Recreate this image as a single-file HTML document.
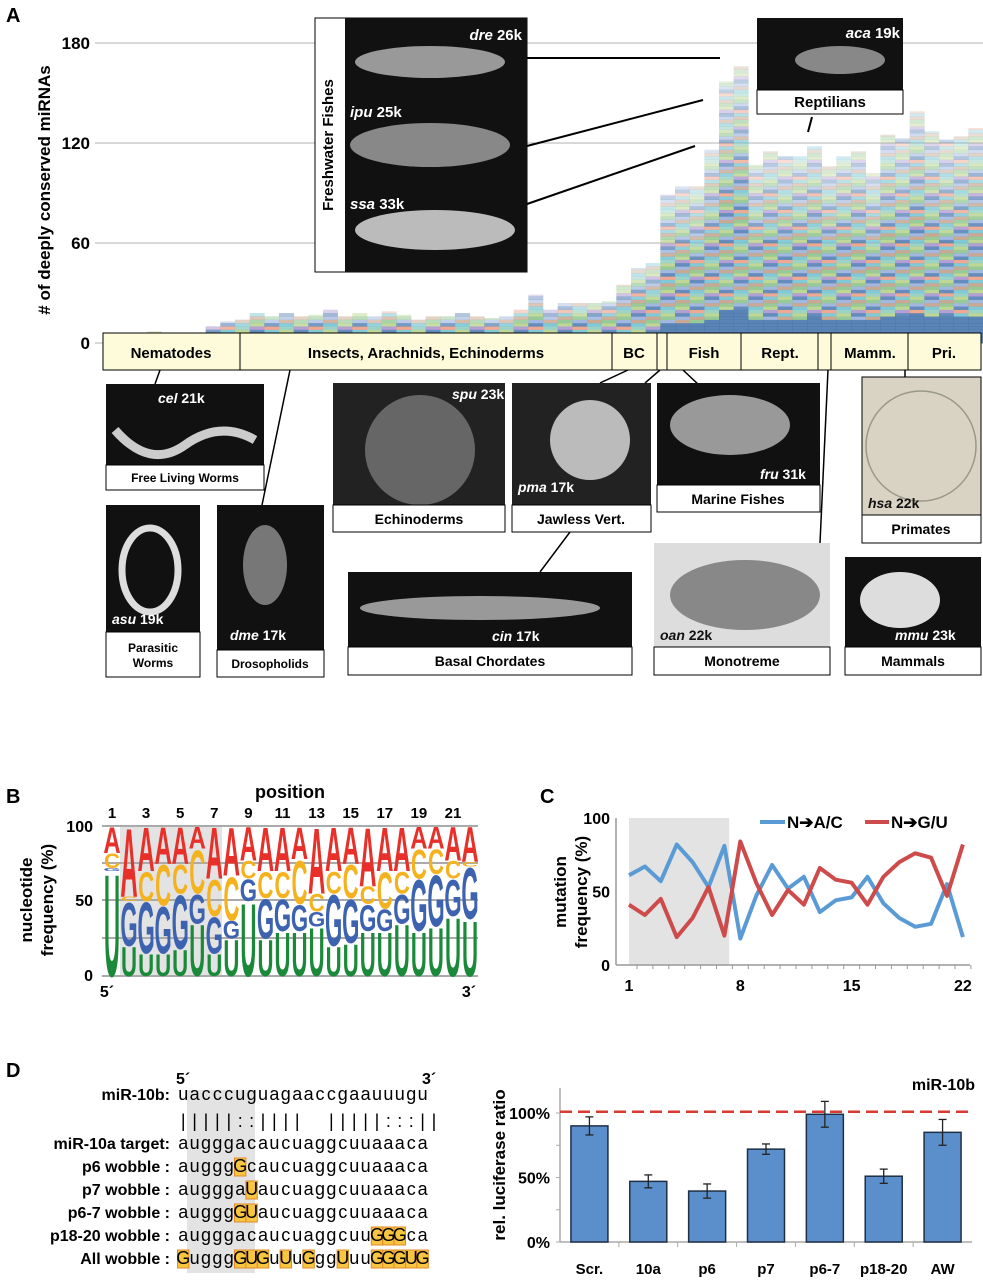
<!DOCTYPE html>
<html><head><meta charset="utf-8"><style>
body{margin:0;background:#fff;}
svg{display:block;font-family:"Liberation Sans",Arial,sans-serif;}
.b{font-weight:bold;}
</style></head><body>
<svg id="fig" width="983" height="1280" viewBox="0 0 983 1280" xmlns="http://www.w3.org/2000/svg">
<text x="6" y="22" class="b" font-size="20">A</text>
<text x="6" y="803" class="b" font-size="20">B</text>
<text x="540" y="803" class="b" font-size="20">C</text>
<text x="6" y="1077" class="b" font-size="20">D</text>

<!-- Panel A axes -->
<g stroke="#b0b0b0" stroke-width="1">
<line x1="95" y1="43" x2="983" y2="43"/><line x1="95" y1="143" x2="983" y2="143"/><line x1="95" y1="243" x2="983" y2="243"/><line x1="95" y1="343" x2="983" y2="343"/>
</g>
<g class="b" font-size="17" text-anchor="end">
<text x="90" y="49">180</text><text x="90" y="149">120</text><text x="90" y="249">60</text><text x="90" y="349">0</text>
</g>
<text class="b" font-size="17" text-anchor="middle" transform="translate(50,190) rotate(-90)"># of deeply conserved miRNAs</text>
<g id="barsA"></g>

<!-- Freshwater fishes -->
<g>
<rect x="315" y="18" width="212" height="254" fill="#fff" stroke="#000"/>
<rect x="345" y="18" width="182" height="254" fill="#111"/>
<ellipse cx="430" cy="62" rx="75" ry="16" fill="#999"/>
<ellipse cx="430" cy="145" rx="80" ry="22" fill="#888"/>
<ellipse cx="435" cy="230" rx="80" ry="20" fill="#bbb"/>
<text x="333" y="145" class="b" font-size="15" text-anchor="middle" transform="rotate(-90 333 145)">Freshwater Fishes</text>
<text x="522" y="40" class="b" font-size="15" fill="#fff" text-anchor="end"><tspan font-style="italic">dre</tspan> 26k</text>
<text x="350" y="117" class="b" font-size="15" fill="#fff"><tspan font-style="italic">ipu</tspan> 25k</text>
<text x="350" y="209" class="b" font-size="15" fill="#fff"><tspan font-style="italic">ssa</tspan> 33k</text>
</g>
<g stroke="#000" stroke-width="2">
<line x1="527" y1="58" x2="720" y2="58"/><line x1="527" y1="146" x2="703" y2="100"/><line x1="527" y1="204" x2="695" y2="146"/>
<line x1="812" y1="117" x2="808" y2="132"/>
</g>
<g>
<rect x="757" y="18" width="146" height="72" fill="#111"/>
<ellipse cx="840" cy="60" rx="45" ry="14" fill="#888"/>
<text x="900" y="38" class="b" font-size="15" fill="#fff" text-anchor="end"><tspan font-style="italic">aca</tspan> 19k</text>
<rect x="757" y="90" width="146" height="24" fill="#fff" stroke="#000"/>
<text x="830" y="107" class="b" font-size="15" text-anchor="middle">Reptilians</text>
</g>

<!-- category band -->
<g>
<rect x="103" y="333" width="878" height="37" fill="#fdfbd9" stroke="#000"/>
<g stroke="#000"><line x1="240" y1="333" x2="240" y2="370"/><line x1="612" y1="333" x2="612" y2="370"/><line x1="657" y1="333" x2="657" y2="370"/><line x1="667" y1="333" x2="667" y2="370"/><line x1="741" y1="333" x2="741" y2="370"/><line x1="818" y1="333" x2="818" y2="370"/><line x1="831" y1="333" x2="831" y2="370"/><line x1="908" y1="333" x2="908" y2="370"/></g>
<g class="b" font-size="15" text-anchor="middle">
<text x="171" y="358">Nematodes</text><text x="426" y="358">Insects, Arachnids, Echinoderms</text><text x="634" y="358">BC</text><text x="704" y="358">Fish</text><text x="780" y="358">Rept.</text><text x="870" y="358">Mamm.</text><text x="944" y="358">Pri.</text>
</g>
</g>
<g stroke="#000" stroke-width="1.5">
<line x1="160" y1="370" x2="155" y2="384"/><line x1="290" y1="370" x2="262" y2="505"/><line x1="628" y1="370" x2="600" y2="383"/><line x1="660" y1="370" x2="645" y2="383"/><line x1="683" y1="370" x2="700" y2="386"/><line x1="828" y1="370" x2="820" y2="543"/><line x1="540" y1="572" x2="570" y2="532"/><line x1="905" y1="370" x2="905" y2="377"/>
</g>

<g class="b" font-size="14">
<rect x="106" y="384" width="158" height="81" fill="#111"/><path d="M115 430 Q150 470 185 445 Q220 420 255 440" stroke="#ccc" stroke-width="9" fill="none"/>
<text x="158" y="403" fill="#fff"><tspan font-style="italic">cel</tspan> 21k</text>
<rect x="106" y="465" width="158" height="25" fill="#fff" stroke="#000"/><text x="185" y="482" text-anchor="middle" font-size="12">Free Living Worms</text>

<rect x="106" y="505" width="94" height="127" fill="#111"/><ellipse cx="150" cy="570" rx="28" ry="42" fill="none" stroke="#ddd" stroke-width="7"/>
<text x="112" y="624" fill="#fff"><tspan font-style="italic">asu</tspan> 19k</text>
<rect x="106" y="632" width="94" height="45" fill="#fff" stroke="#000"/><text x="153" y="652" text-anchor="middle" font-size="12">Parasitic</text><text x="153" y="667" text-anchor="middle" font-size="12">Worms</text>

<rect x="217" y="505" width="107" height="145" fill="#111"/><ellipse cx="265" cy="565" rx="22" ry="40" fill="#777"/>
<text x="230" y="640" fill="#fff"><tspan font-style="italic">dme</tspan> 17k</text>
<rect x="217" y="650" width="107" height="27" fill="#fff" stroke="#000"/><text x="270" y="668" text-anchor="middle" font-size="12">Drosopholids</text>

<rect x="333" y="383" width="172" height="122" fill="#222"/><circle cx="420" cy="450" r="55" fill="#666"/>
<text x="452" y="399" fill="#fff"><tspan font-style="italic">spu</tspan> 23k</text>
<rect x="333" y="505" width="172" height="27" fill="#fff" stroke="#000"/><text x="419" y="524" text-anchor="middle">Echinoderms</text>

<rect x="512" y="383" width="139" height="122" fill="#222"/><circle cx="590" cy="440" r="40" fill="#bbb"/>
<text x="518" y="492" fill="#fff"><tspan font-style="italic">pma</tspan> 17k</text>
<rect x="512" y="505" width="139" height="27" fill="#fff" stroke="#000"/><text x="581" y="524" text-anchor="middle">Jawless Vert.</text>

<rect x="348" y="572" width="284" height="75" fill="#111"/><ellipse cx="480" cy="608" rx="120" ry="12" fill="#999"/>
<text x="492" y="641" fill="#fff"><tspan font-style="italic">cin</tspan> 17k</text>
<rect x="348" y="647" width="284" height="28" fill="#fff" stroke="#000"/><text x="490" y="666" text-anchor="middle">Basal Chordates</text>

<rect x="657" y="383" width="163" height="102" fill="#111"/><ellipse cx="730" cy="425" rx="60" ry="30" fill="#999"/>
<text x="760" y="479" fill="#fff"><tspan font-style="italic">fru</tspan> 31k</text>
<rect x="657" y="485" width="163" height="27" fill="#fff" stroke="#000"/><text x="738" y="504" text-anchor="middle">Marine Fishes</text>

<rect x="654" y="543" width="176" height="104" fill="#ddd"/><ellipse cx="745" cy="595" rx="75" ry="35" fill="#888"/>
<text x="660" y="640" fill="#111"><tspan font-style="italic">oan</tspan> 22k</text>
<rect x="654" y="647" width="176" height="28" fill="#fff" stroke="#000"/><text x="742" y="666" text-anchor="middle">Monotreme</text>

<rect x="862" y="377" width="119" height="138" fill="#d9d3c4" stroke="#000"/><circle cx="921" cy="446" r="55" fill="none" stroke="#998" stroke-width="1.5"/>
<text x="868" y="508" fill="#111"><tspan font-style="italic">hsa</tspan> 22k</text>
<rect x="862" y="515" width="119" height="28" fill="#fff" stroke="#000"/><text x="921" y="534" text-anchor="middle">Primates</text>

<rect x="845" y="557" width="136" height="90" fill="#111"/><ellipse cx="900" cy="600" rx="40" ry="28" fill="#ddd"/>
<text x="895" y="640" fill="#fff"><tspan font-style="italic">mmu</tspan> 23k</text>
<rect x="845" y="647" width="136" height="28" fill="#fff" stroke="#000"/><text x="913" y="666" text-anchor="middle">Mammals</text>
</g>

<!-- Panel B -->
<rect x="120" y="826" width="102" height="150" fill="#e3e3e3"/>
<g stroke="#aaa" stroke-width="2">
<line x1="102" y1="826" x2="478" y2="826"/><line x1="102" y1="863" x2="478" y2="863"/><line x1="102" y1="900" x2="478" y2="900"/><line x1="102" y1="938" x2="478" y2="938"/><line x1="102" y1="976" x2="478" y2="976"/>
</g>
<g id="logoB"></g>
<text x="290" y="798" class="b" font-size="18" text-anchor="middle">position</text>
<g id="posB" class="b" font-size="15" text-anchor="middle"></g>
<g class="b" font-size="16" text-anchor="end">
<text x="93" y="832">100</text><text x="93" y="906">50</text><text x="93" y="981">0</text></g>
<text x="107" y="997" class="b" font-size="16" text-anchor="middle">5´</text>
<text x="469" y="997" class="b" font-size="16" text-anchor="middle">3´</text>
<text class="b" font-size="17" text-anchor="middle" transform="translate(32,900) rotate(-90)">nucleotide</text>
<text class="b" font-size="17" text-anchor="middle" transform="translate(53,900) rotate(-90)">frequency (%)</text>

<!-- Panel C -->
<g id="chartC"></g>
<text class="b" font-size="17" text-anchor="middle" transform="translate(566,892) rotate(-90)">mutation</text>
<text class="b" font-size="17" text-anchor="middle" transform="translate(587,892) rotate(-90)">frequency (%)</text>

<!-- Panel D left -->
<rect x="187" y="1090" width="68" height="183" fill="#e3e3e3"/>
<g id="seqD"></g>

<!-- Panel D right -->
<g id="chartD"></g>
<text class="b" font-size="17" text-anchor="middle" transform="translate(505,1165) rotate(-90)">rel. luciferase ratio</text>
<text x="975" y="1090" class="b" font-size="16" text-anchor="end">miR-10b</text>
</svg>
<script>
const NS='http://www.w3.org/2000/svg';
// ---- Panel A data ----
const speciesTotals=[3,3,4,7,4,4,4,10,13,14,18,16,18,16,17,20,16,18,16,19,17,14,16,16,18,16,15,16,20,29,20,24,24,24,25,35,45,48,89,94,94,116,157,166,107,115,112,112,118,106,112,115,102,125,123,139,127,122,124,129];
const yTicksA=[0,60,120,180];
// ---- Panel B data ----
const logoU=[70,20,15,15,18,35,15,25,50,25,30,30,33,20,22,30,30,35,30,33,40,38];
const logoG=[2,30,35,32,37,20,25,12,15,27,22,18,10,35,30,18,15,20,35,35,25,35];
const logoC=[10,3,20,28,20,30,25,30,12,18,18,30,12,15,23,12,25,15,20,17,12,3];
const logoA=[18,47,30,25,25,15,35,33,23,30,30,22,45,30,25,40,30,30,15,15,23,24];
const posLabels=['1','3','5','7','9','11','13','15','17','19','21'];
// ---- Panel C data ----
const posC=[1,2,3,4,5,6,7,8,9,10,11,12,13,14,15,16,17,18,19,20,21,22];
const seriesAC=[61,67,57,82,70,53,81,18,47,68,52,60,36,44,46,60,42,32,26,28,55,19];
const seriesGU=[41,34,45,19,32,53,20,84,56,34,51,41,66,58,56,41,60,70,76,73,47,82];
const xTicksC=[1,8,15,22];
const yTicksC=[0,50,100];
// ---- Panel D data ----
const catsD=['Scr.','10a','p6','p7','p6-7','p18-20','AW'];
const valsD=[90,47,39.5,72,99,51,85];
const errD=[7,5,5.5,4,10,5.5,10];
const refLineD=[101];
const yTicksD=['0%','50%','100%'];

function mk(tag,attrs,parent){const e=document.createElementNS(NS,tag);for(const k in attrs)e.setAttribute(k,attrs[k]);parent.appendChild(e);return e;}

// Panel A bars
(function(){
 const g=document.getElementById('barsA');
 const x0=103,bw=880/speciesTotals.length;
 const yA=v=>343-v*(300/180);
 const pal=['#4a78b0','#d8706a','#f0a860','#86c086','#a58fcc','#6cbfd0','#e495bf','#cdb86a','#93acd9','#eb9a80','#b3cf84','#6e9bd2','#f2cc70','#bf9a80','#8ccabc'];
 speciesTotals.forEach((v,i)=>{
  const seg=2;const n=Math.ceil(v/seg);
  for(let j=0;j<n;j++){
   const lo=j*seg,hi=Math.min(v,lo+seg);
   let col=pal[(i*5+j*7+(j*j)%5)%pal.length];
   if(i>=38&&lo<v*0.12)col='#3d6fa8';
   const frac=lo/v;
   const r=mk('rect',{x:(x0+i*bw).toFixed(2),y:yA(hi).toFixed(2),width:(bw+0.3).toFixed(2),height:(yA(lo)-yA(hi)+0.3).toFixed(2),fill:col,'fill-opacity':(frac<0.5?0.85:0.85-(frac-0.5)*1.1).toFixed(2)},g);
   
   
  }
 });
})();

// Panel B logo
(function(){
 const g=document.getElementById('logoB');
 const xc=i=>112+i*17.05,yB=p=>976-p*1.5;
 const letters=[['U',logoU,'#1a8a3a'],['G',logoG,'#3d62b0'],['C',logoC,'#f5b21f'],['A',logoA,'#e8302a']];
 for(let i=0;i<22;i++){
  let base=0;
  letters.forEach(([L,arr,col])=>{
   const h=arr[i]*1.5;if(h<=0){return;}
   const t=mk('text',{x:0,y:0,'font-size':100,'font-weight':'bold','text-anchor':'middle',fill:col,transform:`translate(${xc(i).toFixed(2)},${yB(base).toFixed(2)}) scale(${(16/(L==='A'?67:72)).toFixed(3)},${(h/72).toFixed(3)})`},g);
   t.textContent=L;
   
   
   base+=arr[i];
  });
 }
 const p=document.getElementById('posB');
 posLabels.forEach((s,k)=>{const t=mk('text',{x:(112+(+s-1)*17.05).toFixed(1),y:818},p);t.textContent=s;
  
  });
})();

// Panel C
(function(){
 const g=document.getElementById('chartC');
 const xC=p=>629+(p-1)*15.9,yC=v=>965-v*1.47;
 const sh=mk('rect',{x:xC(1),y:yC(100),width:xC(7.3)-xC(1),height:yC(0)-yC(100),fill:'#e3e3e3'},g);
 
 
 mk('line',{x1:616,y1:yC(100),x2:616,y2:yC(0),stroke:'#999','stroke-width':1.5},g);
 mk('line',{x1:616,y1:yC(0),x2:970,y2:yC(0),stroke:'#999','stroke-width':1.5},g);
 posC.forEach(p=>mk('line',{x1:xC(p)+8,y1:yC(0),x2:xC(p)+8,y2:yC(0)+4,stroke:'#999'},g));
 yTicksC.forEach(v=>{const t=mk('text',{x:610,y:yC(v)+6,'font-size':16,'font-weight':'bold','text-anchor':'end'},g);t.textContent=v;
  
  });
 xTicksC.forEach(v=>{const t=mk('text',{x:xC(v),y:yC(0)+26,'font-size':16,'font-weight':'bold','text-anchor':'middle'},g);t.textContent=v;
  
  });
 const line=(arr,col,name)=>{const l=mk('polyline',{points:arr.map((v,i)=>xC(posC[i]).toFixed(1)+','+yC(v).toFixed(1)).join(' '),fill:'none',stroke:col,'stroke-width':4,'stroke-linejoin':'round'},g);
  
  };
 line(seriesAC,'#5b9bd5','series-n-to-ac');
 line(seriesGU,'#cd4b4b','series-n-to-gu');
 mk('line',{x1:760,y1:822,x2:785,y2:822,stroke:'#5b9bd5','stroke-width':4},g);
 let t=mk('text',{x:787,y:828,'font-size':17,'font-weight':'bold'},g);t.textContent='N➔A/C';
 
 
 mk('line',{x1:865,y1:822,x2:889,y2:822,stroke:'#cd4b4b','stroke-width':4},g);
 t=mk('text',{x:891,y:828,'font-size':17,'font-weight':'bold'},g);t.textContent='N➔G/U';
 
 
})();

// Panel D alignment
(function(){
 const g=document.getElementById('seqD');
 const x0=178,cw=11.4;
 const rows=[
  ['miR-10b:','uacccuguagaaccgaauuugu',1100,''],
  ['','|||||::||||  |||||:::||',1127,''],
  ['miR-10a target:','augggacaucuaggcuuaaaca',1149,''],
  ['p6 wobble :','augggGcaucuaggcuuaaaca',1172,'5'],
  ['p7 wobble :','augggaUaucuaggcuuaaaca',1195,'6'],
  ['p6-7 wobble :','augggGUaucuaggcuuaaaca',1218,'5,6'],
  ['p18-20 wobble :','augggacaucuaggcuuGGGca',1241,'17,18,19'],
  ['All wobble :','GugggGUGuUuGggUuuGGGUG',1264,'0,5,6,7,9,11,14,17,18,19,20,21']];
 rows.forEach(([lab,seq,y,hl])=>{
  if(lab){const t=mk('text',{x:170,y:y,'font-size':16,'font-weight':'bold','text-anchor':'end'},g);t.textContent=lab;
   
   }
  const hs=hl?hl.split(',').map(Number):[];
  hs.forEach(k=>mk('rect',{x:x0+k*cw-0.5,y:y-14,width:cw,height:18,fill:'#f7c540',stroke:'#e08a2a','stroke-width':1},g));
  [...seq].forEach((c,k)=>{if(c===' ')return;const t=mk('text',{x:(x0+k*cw+cw/2-0.5).toFixed(1),y:y,'font-size':18,'text-anchor':'middle'},g);t.textContent=c;
   
   });
 });
 let t=mk('text',{x:176,y:1084,'font-size':16,'font-weight':'bold'},g);t.textContent='5´';
 
 
 t=mk('text',{x:422,y:1084,'font-size':16,'font-weight':'bold'},g);t.textContent='3´';
 
 
})();

// Panel D bars
(function(){
 const g=document.getElementById('chartD');
 const x0=560,step=(972-560)/catsD.length,bw=37;
 const yD=v=>1242-v*1.29;
 mk('line',{x1:x0,y1:1088,x2:x0,y2:1242,stroke:'#aaa','stroke-width':1.5},g);
 mk('line',{x1:x0,y1:1242,x2:972,y2:1242,stroke:'#aaa','stroke-width':1.5},g);
 [0,25,50,75,100].forEach(v=>mk('line',{x1:x0-4,y1:yD(v),x2:x0,y2:yD(v),stroke:'#aaa'},g));
 for(let i=1;i<catsD.length;i++)mk('line',{x1:x0+i*step,y1:1242,x2:x0+i*step,y2:1247,stroke:'#aaa'},g);
 yTicksD.forEach((s,k)=>{const t=mk('text',{x:550,y:yD(k*50)+6,'font-size':16,'font-weight':'bold','text-anchor':'end'},g);t.textContent=s;
  
  });
 const rl=mk('line',{x1:x0,y1:yD(refLineD[0]),x2:972,y2:yD(refLineD[0]),stroke:'#d93a32','stroke-width':2.5,'stroke-dasharray':'12,6'},g);
 
 
 catsD.forEach((c,i)=>{
  const cx=x0+step*(i+0.5);
  const r=mk('rect',{x:cx-bw/2,y:yD(valsD[i]),width:bw,height:yD(0)-yD(valsD[i]),fill:'#5b8fcb',stroke:'#1f2f45','stroke-width':1.5},g);
  
  
  const e1=yD(valsD[i]+errD[i]),e2=yD(valsD[i]-errD[i]);
  mk('line',{x1:cx,y1:e1,x2:cx,y2:e2,stroke:'#222','stroke-width':1.3},g);
  mk('line',{x1:cx-4,y1:e1,x2:cx+4,y2:e1,stroke:'#222','stroke-width':1.3},g);
  mk('line',{x1:cx-4,y1:e2,x2:cx+4,y2:e2,stroke:'#222','stroke-width':1.3},g);
  const t=mk('text',{x:cx,y:1274,'font-size':15,'font-weight':'bold','text-anchor':'middle'},g);t.textContent=c;
  
  
 });
})();
</script>
</body></html>
